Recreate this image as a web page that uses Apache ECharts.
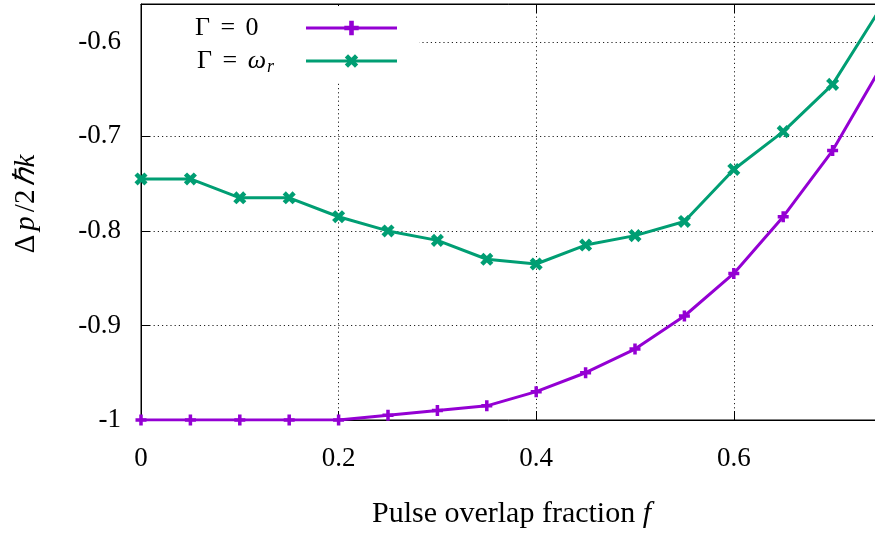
<!DOCTYPE html>
<html>
<head>
<meta charset="utf-8">
<script src="https://cdn.jsdelivr.net/npm/echarts@6/dist/echarts.min.js"></script>
<style>html,body{margin:0;padding:0;background:#fff;}#c{width:875px;height:535px;}</style>
</head>
<body>
<div id="c"></div>
<script>
const fractions = [0, 0.05, 0.1, 0.15, 0.2, 0.25, 0.3, 0.35, 0.4, 0.45, 0.5, 0.55, 0.6, 0.65, 0.7, 0.75];
const gammaZero = [-1, -1, -1, -1, -1, -0.995, -0.99, -0.985, -0.97, -0.95, -0.925, -0.89, -0.845, -0.785, -0.715, -0.625];
const gammaOmegaR = [-0.745, -0.745, -0.765, -0.765, -0.785, -0.8, -0.81, -0.83, -0.835, -0.815, -0.805, -0.79, -0.735, -0.695, -0.645, -0.562];
const xTicks = [0, 0.2, 0.4, 0.6];
const yTicks = [-1, -0.9, -0.8, -0.7, -0.6];

const FONT = 'Liberation Serif';
const plusPath = 'path://M3.4,0H6.6V3.4H10V6.6H6.6V10H3.4V6.6H0V3.4H3.4Z';

const chart = echarts.init(document.getElementById('c'));
const fmt = v => String(Number(v.toFixed(2)));
const dotted = {show: true, lineStyle: {color: '#222', width: 1, type: [1.2, 3]}};

chart.setOption({
  animation: false,
  backgroundColor: '#fff',
  grid: {left: 141, top: 4, right: -7, bottom: 115, show: true, borderColor: '#000', borderWidth: 1,
         backgroundColor: 'transparent', containLabel: false, outerBoundsMode: 'none'},
  legend: {
    orient: 'vertical', left: 142, top: 6, align: 'right',
    backgroundColor: '#fff', padding: [9, 21, 6, 53], itemGap: 5,
    itemWidth: 91, itemHeight: 18,
    lineStyle: {width: 3},
    data: ['g0', 'gw'],
    formatter: n => n === 'g0' ? '{a|Γ\u2009\u2009=\u2009\u20090}' : '{t|Γ\u2009\u2009=\u2009\u2009}{i|ω}{s|r}{p| }',
    textStyle: {
      fontFamily: FONT, fontSize: 26, color: '#000',
      rich: {
        a: {fontFamily: FONT, fontSize: 26, color: '#000', lineHeight: 29, width: 106, align: 'left'},
        t: {fontFamily: FONT, fontSize: 26, color: '#000', lineHeight: 29},
        i: {fontFamily: FONT, fontSize: 26, fontStyle: 'italic', color: '#000', lineHeight: 29},
        s: {fontFamily: FONT, fontSize: 18, fontStyle: 'italic', color: '#000', padding: [12, 0, 0, 1], lineHeight: 29},
        p: {fontFamily: FONT, fontSize: 26, lineHeight: 29, width: 27}
      }
    }
  },
  xAxis: [{
    type: 'value', min: 0, max: 0.75, interval: 0.2,
    axisLine: {show: true, lineStyle: {color: '#000', width: 1}},
    axisTick: {show: true, inside: true, length: 9, lineStyle: {color: '#000'}},
    axisLabel: {margin: 25, fontFamily: FONT, fontSize: 27, color: '#000', formatter: fmt, showMaxLabel: false},
    splitLine: dotted,
    name: '{n|Pulse overlap fraction }{i|f}', nameLocation: 'middle', nameGap: 79,
    nameTextStyle: {rich: {
      n: {fontFamily: FONT, fontSize: 30, color: '#000'},
      i: {fontFamily: FONT, fontSize: 30, color: '#000', fontStyle: 'italic'}
    }}
  }, {
    type: 'value', position: 'top', min: 0, max: 0.75, interval: 0.2,
    axisLine: {show: true, lineStyle: {color: '#000', width: 1}},
    axisTick: {show: true, inside: true, length: 9, lineStyle: {color: '#000'}},
    axisLabel: {show: false}, splitLine: {show: false}
  }],
  yAxis: {
    type: 'value', min: -1, max: -0.56, interval: 0.1,
    axisLine: {show: true, lineStyle: {color: '#000', width: 1}},
    axisTick: {show: true, inside: true, length: 9, lineStyle: {color: '#000'}},
    axisLabel: {margin: 20, fontFamily: FONT, fontSize: 27, color: '#000', formatter: fmt, showMaxLabel: false},
    splitLine: dotted,
    name: '{u|Δ}{i|p}{u|/2}{i|ℏk}', nameLocation: 'middle', nameGap: 100, nameRotate: 90,
    nameTextStyle: {padding: [0, 0, 0, 16], rich: {
      u: {fontFamily: FONT, fontSize: 29, color: '#000', padding: [0, 2, 0, 2]},
      i: {fontFamily: FONT, fontSize: 29, color: '#000', fontStyle: 'italic', padding: [0, 2, 0, 2]}
    }}
  },
  series: [{
    name: 'g0', type: 'line', data: fractions.map((x, i) => [x, gammaZero[i]]),
    color: '#9400D3', lineStyle: {width: 3, color: '#9400D3'},
    symbol: plusPath, symbolSize: 11, showAllSymbol: true,
    itemStyle: {color: '#9400D3', borderWidth: 0}, z: 3
  }, {
    name: 'gw', type: 'line', data: fractions.map((x, i) => [x, gammaOmegaR[i]]),
    color: '#009E73', lineStyle: {width: 3, color: '#009E73'},
    symbol: plusPath, symbolSize: 14, symbolRotate: 45, showAllSymbol: true,
    itemStyle: {color: '#009E73', borderWidth: 0}, z: 3
  }]
});
</script>
</body>
</html>
